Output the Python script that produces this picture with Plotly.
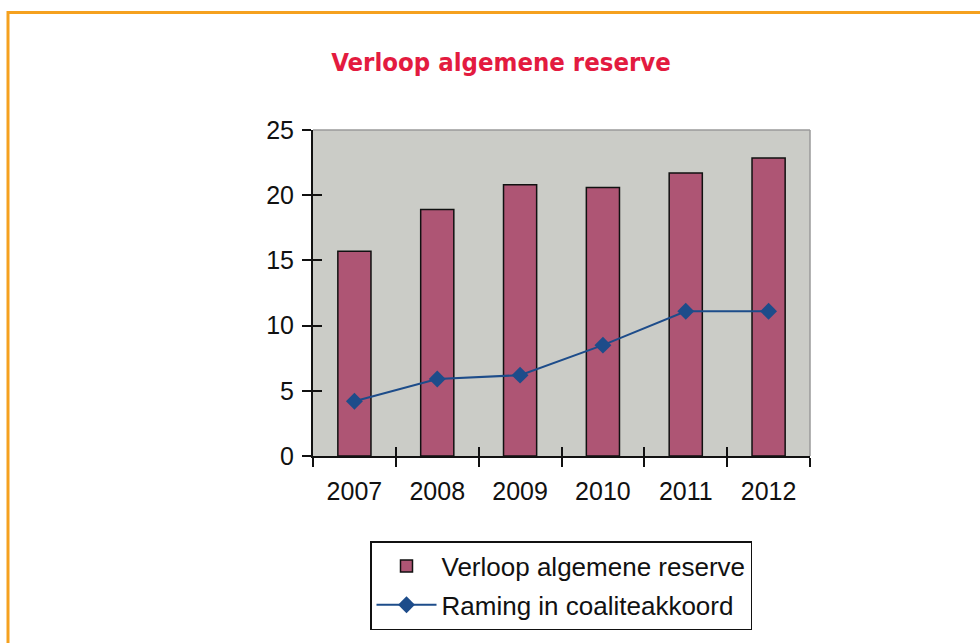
import plotly.graph_objects as go

years = ["2007", "2008", "2009", "2010", "2011", "2012"]
reserve = [15.7, 18.9, 20.8, 20.6, 21.7, 22.85]
raming = [4.2, 5.9, 6.2, 8.5, 11.1, 11.1]
y_ticks = [0, 5, 10, 15, 20, 25]

fig = go.Figure()
fig.add_trace(go.Bar(
    x=years, y=reserve, name="Verloop algemene reserve",
    marker=dict(color="#AE5574", line=dict(color="#111111", width=1.5)),
    width=0.4, xaxis="x", yaxis="y", legendgroup="a",
))
fig.add_trace(go.Scatter(
    x=years, y=raming, name="Raming in coaliteakkoord", mode="lines+markers",
    line=dict(color="#1D4C8A", width=2),
    marker=dict(symbol="diamond", size=13, color="#1D4C8A"),
    xaxis="x2", yaxis="y2", legendgroup="b",
))

font_axis = dict(family="Liberation Sans, Arial, sans-serif", size=25, color="#111111")

fig.update_layout(
    width=980, height=643,
    margin=dict(l=313, r=170, t=130, b=187),
    paper_bgcolor="white",
    plot_bgcolor="#CBCCC7",
    title=dict(
        text="<b>Verloop algemene reserve</b>",
        x=501 / 980, xanchor="center", xref="container",
        y=1 - 62 / 643, yanchor="middle", yref="container",
        font=dict(family="DejaVu Sans Condensed, Liberation Sans Narrow, Arial Narrow, sans-serif",
                  size=25.5, color="#E31B3F"),
    ),
    xaxis=dict(
        type="category", range=[-0.5, 5.5], tickson="boundaries",
        ticks="outside", ticklen=9, tickcolor="#111111", tickwidth=1.5,
        showline=True, linecolor="#111111", linewidth=2,
        showgrid=False, zeroline=False, tickfont=font_axis, ticklabelstandoff=12,
    ),
    xaxis2=dict(
        type="category", range=[-0.5, 5.5], tickson="boundaries", overlaying="x",
        ticks="inside", ticklen=9, tickcolor="#111111", tickwidth=1.5,
        showticklabels=False, showgrid=False, zeroline=False, showline=False,
    ),
    yaxis=dict(
        range=[0, 25], tickvals=y_ticks,
        ticks="outside", ticklen=9, tickcolor="#111111", tickwidth=1.5,
        showline=True, linecolor="#111111", linewidth=2,
        showgrid=False, zeroline=False, tickfont=font_axis, ticklabelstandoff=3,
    ),
    yaxis2=dict(
        range=[0, 25], tickvals=y_ticks, overlaying="y", side="left",
        ticks="inside", ticklen=9, tickcolor="#111111", tickwidth=1.5,
        showticklabels=False, showgrid=False, zeroline=False, showline=False,
    ),
    showlegend=True,
    legend=dict(
        x=(370 - 313) / 497, xanchor="left",
        y=(456 - 541) / 326, yanchor="top",
        bordercolor="#111111", borderwidth=1.5, bgcolor="white",
        font=dict(family="Liberation Sans, Arial, sans-serif", size=26, color="#111111"),
        tracegroupgap=2, itemwidth=60,
    ),
    shapes=[
        dict(type="line", xref="paper", yref="paper", x0=0, x1=1, y0=1, y1=1,
             line=dict(color="#9A9A9A", width=1.5)),
        dict(type="line", xref="paper", yref="paper", x0=1, x1=1, y0=0, y1=1,
             line=dict(color="#9A9A9A", width=1.5)),
        dict(type="rect", xref="paper", yref="paper",
             x0=(8 - 313) / 497, x1=(995 - 313) / 497,
             y0=(456 - 660) / 326, y1=(456 - 12.5) / 326,
             line=dict(color="#F5A11F", width=3), layer="below"),
    ],
)

fig.write_html("out.html", config={"displayModeBar": False},
               post_script="document.body.style.margin='0';")
